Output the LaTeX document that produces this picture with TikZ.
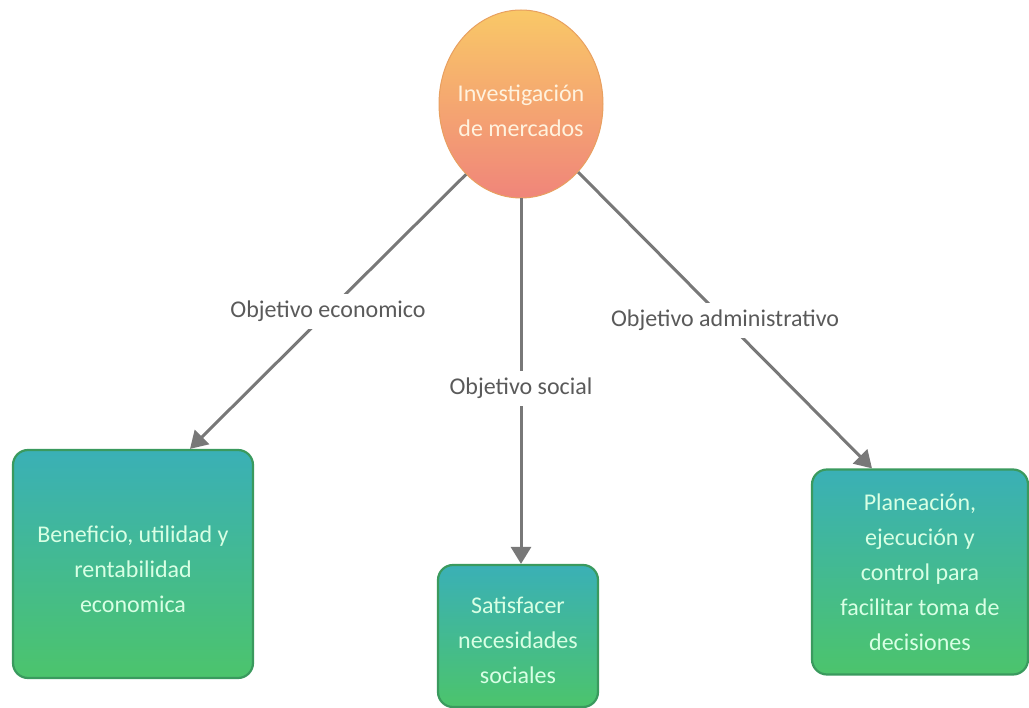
\documentclass[tikz,border=0pt]{standalone}
\usepackage{fontspec}
\setmainfont{Carlito}
\usetikzlibrary{shapes.geometric,arrows.meta,calc}
\definecolor{linegrey}{HTML}{787878}
\definecolor{labelgrey}{HTML}{5A5A5A}
\definecolor{ovaltop}{HTML}{F9C867}
\definecolor{ovalbot}{HTML}{F0857A}
\definecolor{ovaledge}{HTML}{E8A060}
\definecolor{ovaltext}{HTML}{FFF2DE}
\definecolor{boxtop}{HTML}{3AB0B6}
\definecolor{boxbot}{HTML}{4CC46C}
\definecolor{boxedge}{HTML}{3A9A5E}
\definecolor{boxtext}{HTML}{D8FFE4}

\begin{document}
\begin{tikzpicture}[x=1pt,y=-1pt,
  topic/.style={ellipse, draw=ovaledge, line width=1pt,
    top color=ovaltop, bottom color=ovalbot,
    minimum width=164pt, minimum height=188pt, inner sep=-6pt,
    align=center, text=ovaltext, font=\fontsize{24}{35}\selectfont},
  goal/.style={draw=boxedge, line width=2.2pt, rounded corners=15pt,
    top color=boxtop, bottom color=boxbot, inner sep=0pt,
    align=center, text=boxtext, font=\fontsize{24}{35}\selectfont},
  link/.style={draw=linegrey, line width=3pt,
    -{Triangle[width=20pt,length=17pt]}},
  tag/.style={fill=white, text=labelgrey,
    font=\fontsize{24}{28}\selectfont, inner sep=7pt}
]
\useasboundingbox (0,0) rectangle (1029,708);

% central topic
\node[topic] (c) at (521,104) {\rule{0pt}{30pt}Investigación\\de mercados};

% three objectives
\node[goal, minimum width=240pt, minimum height=228pt] (b1) at (133,564)
  {\rule{0pt}{28pt}Beneficio, utilidad y\\rentabilidad\\economica};
\node[goal, minimum width=160pt, minimum height=142pt] (b2) at (518,636)
  {\rule{0pt}{26pt}Satisfacer\\necesidades\\sociales};
\node[goal, minimum width=216pt, minimum height=205pt] (b3) at (920,572)
  {Planeación,\\ejecución y\\control para\\facilitar toma de\\decisiones};

% connectors
\draw[link] (c.232) -- node[tag] {Objetivo economico} ($(b1.north)+(57,0)$);
\draw[link] (c.south) -- node[tag, pos=0.52] {Objetivo social} (c.south |- b2.north);
\draw[link] (c.310) -- node[tag] {Objetivo administrativo} ($(b3.north)+(-48,0)$);
\end{tikzpicture}
\end{document}
